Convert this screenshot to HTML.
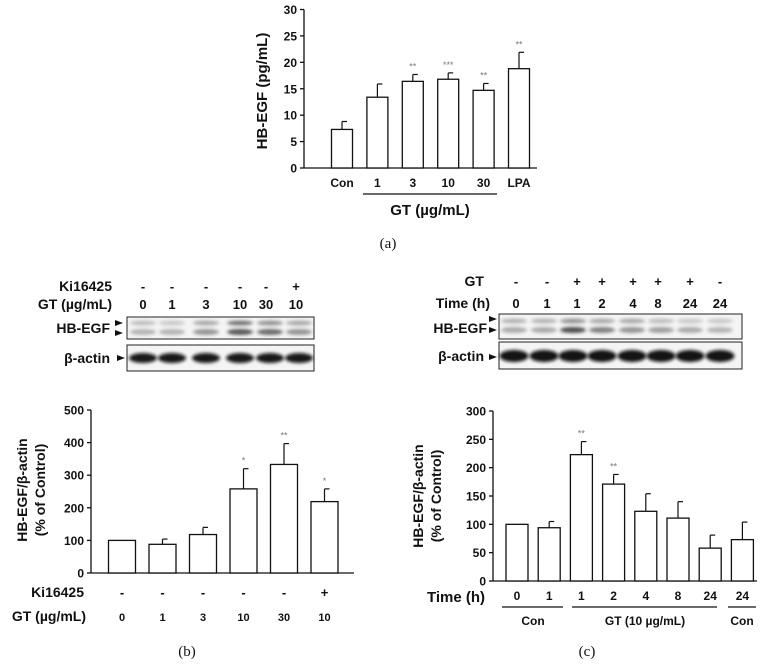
<!DOCTYPE html>
<html><head><meta charset="utf-8"><style>
body{margin:0;background:#fff}
svg{display:block;font-family:"Liberation Sans",Arial,sans-serif}
</style></head><body>
<svg id="s" width="776" height="668" viewBox="0 0 776 668" xmlns="http://www.w3.org/2000/svg">
<defs><filter id="bl" x="-20%" y="-50%" width="140%" height="200%"><feGaussianBlur stdDeviation="1.6"/></filter></defs>
</svg>
<script>
// Panel a data
const aCats=["Con","1","3","10","30","LPA"];
const aVals=[7.3,13.4,16.4,16.8,14.7,18.8];
const aErr=[1.5,2.5,1.3,1.2,1.3,3.1];
const aSig=["","","**","***","**","**"];
const aTicks=[0,5,10,15,20,25,30];
// Panel b data
const bKi=["-","-","-","-","-","+"];
const bGT=["0","1","3","10","30","10"];
const bVals=[100,88,118,258,333,219];
const bErr=[0,16,22,62,64,39];
const bSig=["","","","*","**","*"];
const bTicks=[0,100,200,300,400,500];
const bBand1=[0.25,0.2,0.35,0.6,0.45,0.35];
const bBand2=[0.3,0.3,0.45,0.75,0.65,0.45];
// Panel c data
const cGT=["-","-","+","+","+","+","+","-"];
const cTime=["0","1","1","2","4","8","24","24"];
const cVals=[100,94,223,171,123,111,58,73];
const cErr=[0,11,23,17,31,29,23,31];
const cSig=["","","**","**","","","",""];
const cTicks=[0,50,100,150,200,250,300];
const cBand1=[0.3,0.3,0.45,0.35,0.35,0.25,0.2,0.2];
const cBand2=[0.35,0.35,0.8,0.55,0.45,0.4,0.35,0.3];

const S=document.getElementById('s');
const NS="http://www.w3.org/2000/svg";
function mk(tag,attrs,name,parent){const e=document.createElementNS(NS,tag);for(const k in attrs)e.setAttribute(k,attrs[k]);


(parent||S).appendChild(e);return e;}
function txt(x,y,t,name,size,anchor,extra){const e=mk('text',Object.assign({x:x,y:y,'font-size':size||12,'font-weight':'bold','text-anchor':anchor||'middle',fill:'#111'},extra||{}),name);e.textContent=t;return e;}
function line(x1,y1,x2,y2,name,w){return mk('line',{x1:x1,y1:y1,x2:x2,y2:y2,stroke:'#111','stroke-width':w||1.3},name);}

function chart(o){
  const y=v=>o.y0-(v-o.vmin)/(o.vmax-o.vmin)*(o.y0-o.y1);
  line(o.ax,o.y1,o.ax,o.y0,o.p+'-y-axis');
  line(o.ax,o.y0,o.xend,o.y0,o.p+'-x-axis');
  o.ticks.forEach((t,i)=>{line(o.ax-4,y(t),o.ax,y(t),o.p+'-y-tick');txt(o.ax-7,y(t)+4.5,String(t),o.p+'-y-tick-label',o.fs,'end');});
  o.vals.forEach((v,i)=>{
    const cx=o.cx0+i*o.step;
    if(o.err[i]>0){line(cx,y(v),cx,y(v+o.err[i]),o.p+'-error-bar',1.2);line(cx,y(v+o.err[i]),cx+5,y(v+o.err[i]),o.p+'-error-cap',1.2);}
    mk('rect',{x:cx-o.bw/2,y:y(v),width:o.bw,height:o.y0-y(v),fill:'#fff',stroke:'#111','stroke-width':1.3},o.p+'-bar-'+i);
    if(o.sig[i])txt(cx,y(v+o.err[i])-5,o.sig[i],o.p+'-significance',9,'middle',{fill:'#777','font-weight':'normal'});
  });
  return y;
}

// ---------- Panel a ----------
chart({p:'a',ax:304,y0:168,y1:9.5,vmin:0,vmax:30,xend:537,ticks:aTicks,vals:aVals,err:aErr,sig:aSig,cx0:342,step:35.4,bw:21,fs:12});
aCats.forEach((c,i)=>txt(342+i*35.4,187,c,'a-x-label',12));
line(363,194,497,194,'a-gt-bracket',1.2);
txt(430,215,'GT (µg/mL)','a-x-title',15);
txt(267,91,'HB-EGF (pg/mL)','a-y-title',15,'middle',{transform:'rotate(-90 267 91)'});
txt(388,248,'(a)','a-panel-label',15,'middle',{'font-family':'Liberation Serif, serif','font-weight':'normal'});

// ---------- Blot b ----------
const bLane=[143,172,206,240,266,296];
txt(112,291,'Ki16425','b-blot-ki-label',14,'end');
txt(112,309,'GT (µg/mL)','b-blot-gt-label',14,'end');
bKi.forEach((t,i)=>txt(bLane[i],291,t,'b-blot-ki-value',13));
bGT.forEach((t,i)=>txt(bLane[i],309,t,'b-blot-gt-value',13));
mk('rect',{x:127,y:317,width:187,height:22,fill:'#f4f4f4',stroke:'#222','stroke-width':1},'b-hbegf-blot');
mk('rect',{x:127,y:345,width:187,height:26,fill:'#f4f4f4',stroke:'#222','stroke-width':1},'b-actin-blot');
const bLaneB=[143,172,206,240,270,299];
bLaneB.forEach((x,i)=>{
  mk('ellipse',{cx:x,cy:323,rx:13,ry:2.5,fill:'#222',opacity:bBand1[i],filter:'url(#bl)'},'b-hbegf-band-upper');
  mk('ellipse',{cx:x,cy:332,rx:13,ry:3,fill:'#222',opacity:bBand2[i],filter:'url(#bl)'},'b-hbegf-band-lower');
  mk('ellipse',{cx:x,cy:358,rx:14,ry:5,fill:'#111',opacity:0.95,filter:'url(#bl)'},'b-actin-band');
});
txt(110,333,'HB-EGF','b-hbegf-label',14,'end');
txt(110,363,'β-actin','b-actin-label',14,'end');
mk('path',{d:'M115,320 l8,3 l-8,3z M115,330 l8,3 l-8,3z M117,355 l8,3 l-8,3z',fill:'#111'},'b-arrowheads');

// ---------- Panel b chart ----------
chart({p:'b',ax:91,y0:573,y1:410,vmin:0,vmax:500,xend:354,ticks:bTicks,vals:bVals,err:bErr,sig:bSig,cx0:122,step:40.5,bw:27,fs:12});
txt(84,597,'Ki16425','b-ki-label',14,'end');
txt(86,621,'GT (µg/mL)','b-gt-label',14,'end');
bKi.forEach((t,i)=>txt(122+i*40.5,597,t,'b-ki-value',13));
bGT.forEach((t,i)=>txt(122+i*40.5,621,t,'b-gt-value',11));
txt(27,490,'HB-EGF/β-actin','b-y-title',14,'middle',{transform:'rotate(-90 27 490)'});
txt(45,490,'(% of Control)','b-y-title-2',14,'middle',{transform:'rotate(-90 45 490)'});
txt(187,656,'(b)','b-panel-label',15,'middle',{'font-family':'Liberation Serif, serif','font-weight':'normal'});

// ---------- Blot c ----------
const cLane=[516,547,577,602,633,658,690,720];
txt(484,286,'GT','c-blot-gt-label',14,'end');
txt(490,308,'Time (h)','c-blot-time-label',14,'end');
cGT.forEach((t,i)=>txt(cLane[i],286,t,'c-blot-gt-value',13));
cTime.forEach((t,i)=>txt(cLane[i],308,t,'c-blot-time-value',13));
mk('rect',{x:499,y:314,width:243,height:25,fill:'#f4f4f4',stroke:'#222','stroke-width':1},'c-hbegf-blot');
mk('rect',{x:499,y:342,width:243,height:27,fill:'#f4f4f4',stroke:'#222','stroke-width':1},'c-actin-blot');
const cLaneB=[514,544,573,602,632,661,690,720];
cLaneB.forEach((x,i)=>{
  mk('ellipse',{cx:x,cy:321,rx:13,ry:2.5,fill:'#222',opacity:cBand1[i],filter:'url(#bl)'},'c-hbegf-band-upper');
  mk('ellipse',{cx:x,cy:330,rx:13,ry:3,fill:'#222',opacity:cBand2[i],filter:'url(#bl)'},'c-hbegf-band-lower');
  mk('ellipse',{cx:x,cy:356,rx:14.5,ry:6,fill:'#111',opacity:0.97,filter:'url(#bl)'},'c-actin-band');
});
txt(487,333,'HB-EGF','c-hbegf-label',14,'end');
txt(484,361,'β-actin','c-actin-label',14,'end');
mk('path',{d:'M489,316 l8,3 l-8,3z M489,327 l8,3 l-8,3z M489,354 l8,3 l-8,3z',fill:'#111'},'c-arrowheads');

// ---------- Panel c chart ----------
chart({p:'c',ax:493,y0:581,y1:411,vmin:0,vmax:300,xend:757,ticks:cTicks,vals:cVals,err:cErr,sig:cSig,cx0:517,step:32.2,bw:22,fs:12});
txt(485,602,'Time (h)','c-time-label',15,'end');
cTime.forEach((t,i)=>txt(517+i*32.2,600,t,'c-time-value',12));
line(502,607,563,607,'c-con-bracket',1.2);
line(572,607,717,607,'c-gt-bracket',1.2);
line(728,607,756,607,'c-con2-bracket',1.2);
txt(533,625,'Con','c-con-label',12);
txt(645,625,'GT (10 µg/mL)','c-gt-label',12);
txt(742,625,'Con','c-con2-label',12);
txt(423,496,'HB-EGF/β-actin','c-y-title',14,'middle',{transform:'rotate(-90 423 496)'});
txt(441,496,'(% of Control)','c-y-title-2',14,'middle',{transform:'rotate(-90 441 496)'});
txt(587,656,'(c)','c-panel-label',15,'middle',{'font-family':'Liberation Serif, serif','font-weight':'normal'});
</script>
</body></html>
